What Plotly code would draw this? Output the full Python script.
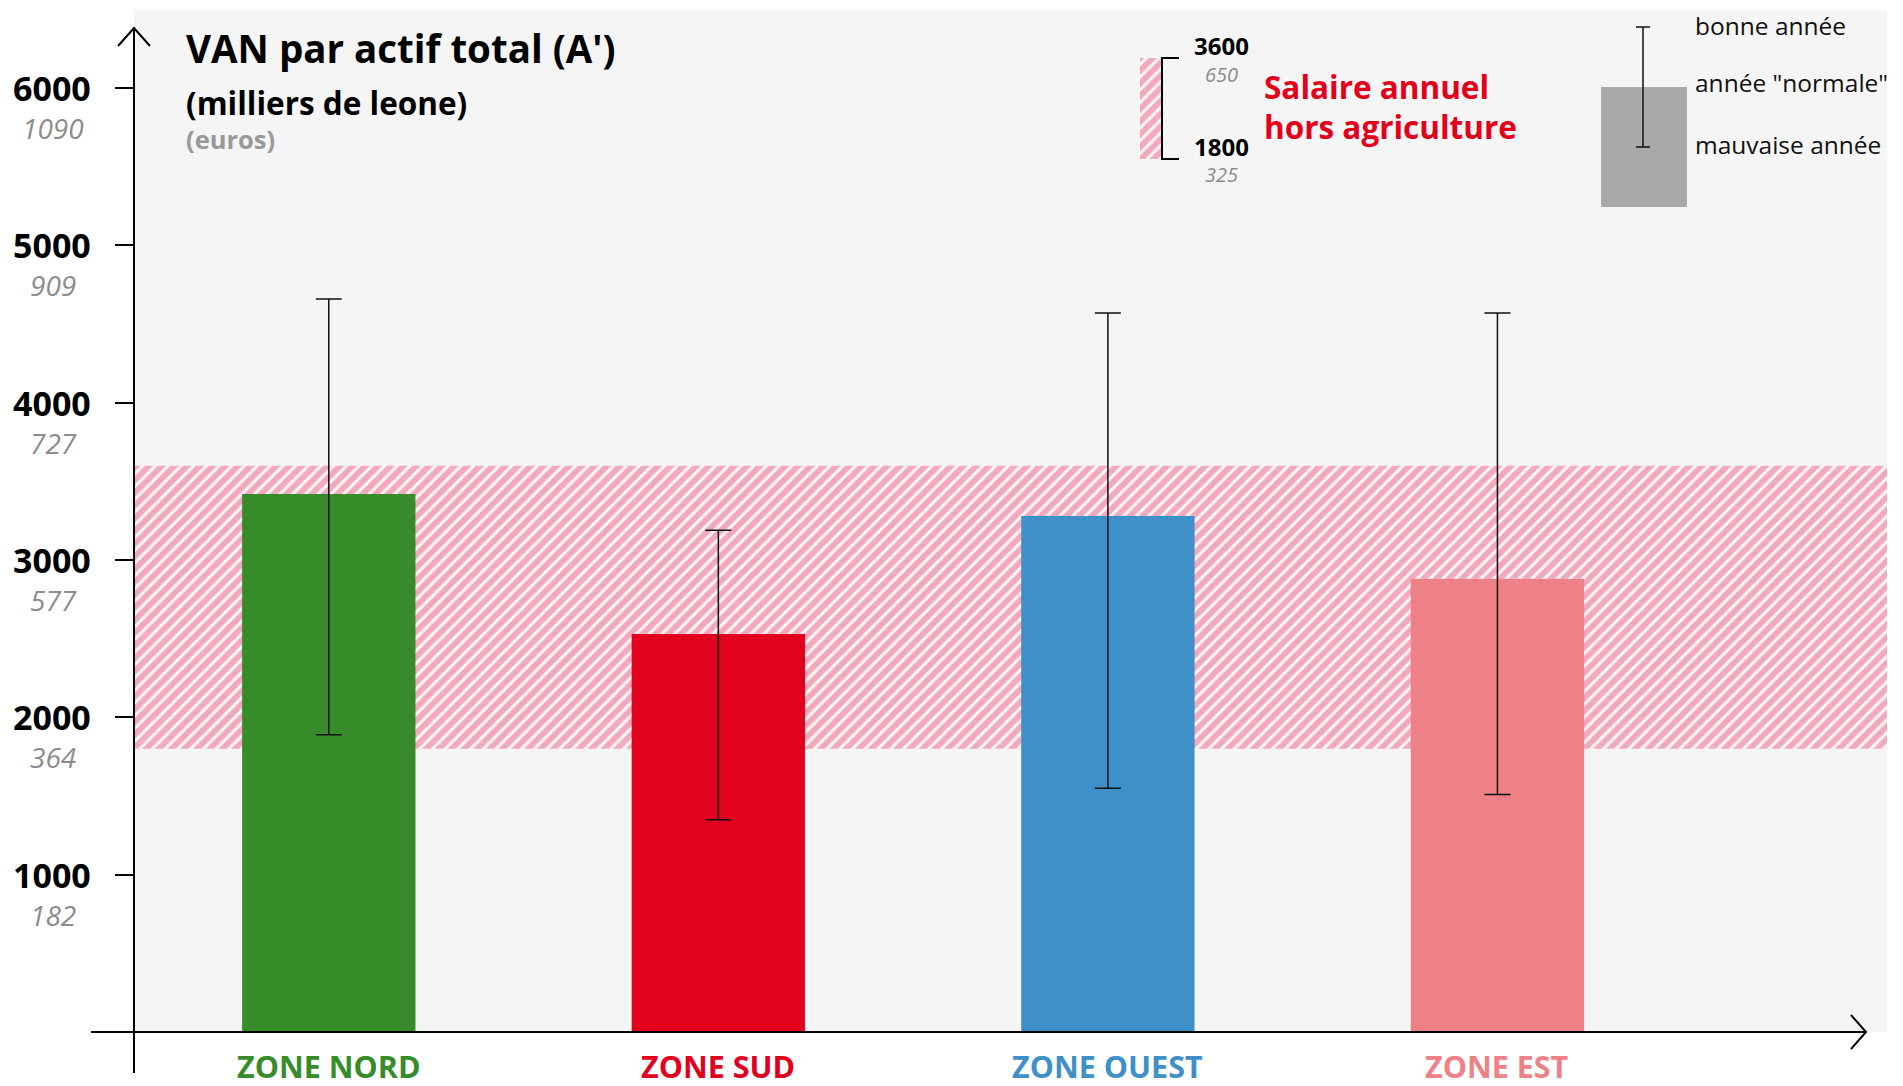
import plotly.graph_objects as go

# ---------------- data ----------------
zones = ["ZONE NORD", "ZONE SUD", "ZONE OUEST", "ZONE EST"]
van_normale = [3420, 2530, 3280, 2880]     # année "normale"
van_bonne = [4660, 3190, 4570, 4570]       # bonne année
van_mauvaise = [1890, 1350, 1550, 1510]    # mauvaise année
zone_colors = ["#378c2a", "#e2001f", "#3f90c8", "#ee8185"]

y_ticks = [1000, 2000, 3000, 4000, 5000, 6000]
y_ticks_euros = ["182", "364", "577", "727", "909", "1090"]

salaire_bas, salaire_haut = 1800, 3600
salaire_bas_euros, salaire_haut_euros = "325", "650"

# ---------------- layout geometry ----------------
OFF = 8                      # page body margin
W, H = 1903 - OFF, 1086 - OFF
L, T = 134 - OFF, 10 - OFF
R = 16
B = 54
PW, PH = W - L - R, H - T - B
FONT = "Open Sans"


def px(x):
    """page pixel x -> paper"""
    return (x - OFF - L) / PW


def py(y):
    """page pixel y -> paper"""
    return (H - B - (y - OFF)) / PH


fig = go.Figure()

hatch = dict(shape="/", fgcolor="#f3a9bd", bgcolor="#f8f4f5", size=9, solidity=0.64,
             fgopacity=1)

# hatched band : salaire annuel hors agriculture
fig.add_trace(go.Bar(
    x=[zones[0]], y=[salaire_haut - salaire_bas], base=[salaire_bas],
    width=[4.5], offset=[-0.5],
    marker=dict(color="#f8f4f5", line=dict(width=0), pattern=hatch),
    hoverinfo="skip", showlegend=False,
))

# zone bars with error bars
errs_plus = [b - n for b, n in zip(van_bonne, van_normale)]
errs_minus = [n - m for n, m in zip(van_normale, van_mauvaise)]
fig.add_trace(go.Bar(
    x=zones, y=van_normale, width=0.445,
    marker=dict(color=zone_colors, line=dict(width=0)),
    error_y=dict(type="data", symmetric=False, array=errs_plus,
                 arrayminus=errs_minus, color="#111111", thickness=1.5, width=13),
    showlegend=False,
))

# small hatched legend swatch
fig.add_trace(go.Bar(
    x=[0], y=[1], width=[1], xaxis="x3", yaxis="y3",
    marker=dict(color="#f8f4f5", line=dict(width=0), pattern=hatch),
    hoverinfo="skip", showlegend=False,
))

annotations = []
# y tick labels
for v, e in zip(y_ticks, y_ticks_euros):
    annotations.append(dict(x=px(52), xref="paper", y=v, yref="y", text=f"<b>{v}</b>",
                            showarrow=False, xanchor="center", yanchor="middle",
                            font=dict(family=FONT, size=34, color="#000000")))
    annotations.append(dict(x=px(53), xref="paper", y=v, yref="y", yshift=-40,
                            text=f"<i>{e}</i>", showarrow=False, xanchor="center",
                            yanchor="middle",
                            font=dict(family=FONT, size=28, color="#8c8c8c")))

# zone labels
for z, c in zip(zones, zone_colors):
    annotations.append(dict(x=z, xref="x", y=py(1066), yref="paper", text=f"<b>{z}</b>",
                            showarrow=False, xanchor="center", yanchor="middle",
                            borderpad=0,
                            font=dict(family=FONT, size=30.5, color=c)))

# title
annotations += [
    dict(x=px(184), xref="paper", y=py(48), yref="paper",
         text="<b>VAN par actif total (A')</b>", showarrow=False,
         xanchor="left", yanchor="middle", font=dict(family=FONT, size=38.5, color="#000")),
    dict(x=px(184), xref="paper", y=py(103), yref="paper",
         text="<b>(milliers de leone)</b>", showarrow=False,
         xanchor="left", yanchor="middle", font=dict(family=FONT, size=31.5, color="#000")),
    dict(x=px(184), xref="paper", y=py(139), yref="paper",
         text="<b>(euros)</b>", showarrow=False,
         xanchor="left", yanchor="middle", font=dict(family=FONT, size=25.5, color="#999999")),
]

# salaire legend labels
annotations += [
    dict(x=px(1221), xref="paper", y=py(45), yref="paper", text=f"<b>{salaire_haut}</b>",
         showarrow=False, xanchor="center", yanchor="middle", borderpad=0,
         font=dict(family=FONT, size=24, color="#000")),
    dict(x=px(1221), xref="paper", y=py(74), yref="paper", text=f"<i>{salaire_haut_euros}</i>",
         showarrow=False, xanchor="center", yanchor="middle", borderpad=0,
         font=dict(family=FONT, size=20, color="#8c8c8c")),
    dict(x=px(1221), xref="paper", y=py(146), yref="paper", text=f"<b>{salaire_bas}</b>",
         showarrow=False, xanchor="center", yanchor="middle", borderpad=0,
         font=dict(family=FONT, size=24, color="#000")),
    dict(x=px(1221), xref="paper", y=py(174), yref="paper", text=f"<i>{salaire_bas_euros}</i>",
         showarrow=False, xanchor="center", yanchor="middle", borderpad=0,
         font=dict(family=FONT, size=20, color="#8c8c8c")),
    dict(x=px(1262), xref="paper", y=py(87), yref="paper", text="<b>Salaire annuel</b>",
         showarrow=False, xanchor="left", yanchor="middle",
         font=dict(family=FONT, size=31.5, color="#e2001a")),
    dict(x=px(1262), xref="paper", y=py(127), yref="paper", text="<b>hors agriculture</b>",
         showarrow=False, xanchor="left", yanchor="middle",
         font=dict(family=FONT, size=31.5, color="#e2001a")),
]

# error-bar legend labels
for txt, yy in [("bonne année", 25), ('année "normale"', 83), ("mauvaise année", 144)]:
    annotations.append(dict(x=px(1694), xref="paper", y=py(yy), yref="paper", text=txt,
                            showarrow=False, xanchor="left", yanchor="middle",
                            borderpad=0,
                            font=dict(family=FONT, size=24.5, color="#111")))

line_k = dict(color="#000000", width=2)
shapes = [
    # y axis with arrow
    dict(type="line", xref="paper", yref="paper", x0=px(134), x1=px(134),
         y0=py(1073), y1=py(28), line=line_k),
    dict(type="path", xref="paper", yref="paper",
         path=f"M {px(118)} {py(46)} L {px(134)} {py(28)} L {px(150)} {py(46)}",
         line=line_k),
    # x axis with arrow
    dict(type="line", xref="paper", yref="paper", x0=px(91), x1=px(1866),
         y0=py(1032), y1=py(1032), line=line_k),
    dict(type="path", xref="paper", yref="paper",
         path=f"M {px(1851)} {py(1015)} L {px(1866)} {py(1032)} L {px(1851)} {py(1049)}",
         line=line_k),
    # salaire bracket
    dict(type="path", xref="paper", yref="paper",
         path=(f"M {px(1179)} {py(58)} L {px(1162)} {py(58)} "
               f"L {px(1162)} {py(159)} L {px(1179)} {py(159)}"),
         line=line_k),
    # error-bar legend key
    dict(type="rect", xref="paper", yref="paper", x0=px(1601), x1=px(1687),
         y0=py(207), y1=py(87), fillcolor="#a9a9a9", line=dict(width=0)),
    dict(type="line", xref="paper", yref="paper", x0=px(1643), x1=px(1643),
         y0=py(147), y1=py(27), line=dict(color="#111", width=1.5)),
    dict(type="line", xref="paper", yref="paper", x0=px(1636), x1=px(1650),
         y0=py(27), y1=py(27), line=dict(color="#111", width=1.5)),
    dict(type="line", xref="paper", yref="paper", x0=px(1636), x1=px(1650),
         y0=py(147), y1=py(147), line=dict(color="#111", width=1.5)),
]

fig.update_layout(
    width=W, height=H,
    margin=dict(l=L, r=R, t=T, b=B),
    paper_bgcolor="#ffffff", plot_bgcolor="#f5f5f5",
    barmode="overlay",
    font=dict(family=FONT),
    xaxis=dict(type="category", categoryorder="array", categoryarray=zones,
               range=[-0.5, 4.0], showticklabels=False, ticks="", showline=False,
               showgrid=False, zeroline=False, fixedrange=True),
    yaxis=dict(range=[0, 6497], tickvals=y_ticks, showticklabels=False,
               ticks="outside", ticklen=18, tickwidth=2, tickcolor="#000",
               showline=False, showgrid=False, zeroline=False, fixedrange=True),
    xaxis3=dict(domain=[px(1140), px(1161)], anchor="y3", range=[-0.5, 0.5],
                visible=False, fixedrange=True),
    yaxis3=dict(domain=[py(159), py(58)], anchor="x3", range=[0, 1],
                visible=False, fixedrange=True),
    annotations=annotations,
    shapes=shapes,
)

fig.write_html("out.html")
